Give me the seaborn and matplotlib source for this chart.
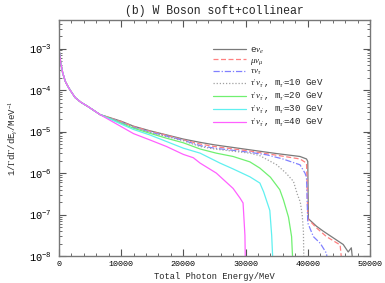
import numpy as np
import pandas as pd
import matplotlib
matplotlib.use("Agg")
import matplotlib.pyplot as plt
import seaborn as sns
from matplotlib.ticker import MultipleLocator, LogLocator

# shared low-energy part (all channels overlap there), energy in MeV, log10 of 1/Gamma dGamma/dE
head_E = [100, 300, 600, 1000, 1400, 1800, 2600, 3500, 4700, 6600]
head_log = [-3.1, -3.35, -3.58, -3.78, -3.9, -4.0, -4.18, -4.29, -4.4, -4.59]

enu_E = [10000, 12000, 14600, 17300, 20000, 22700, 25000, 30700, 35000, 38750, 39800, 40000,
         40100, 41400, 42500, 44100, 45700, 46500, 47000, 47500]
enu_log = [-4.75, -4.87, -4.98, -5.08, -5.18, -5.26, -5.32, -5.44, -5.53, -5.6, -5.66, -5.72,
           -7.1, -7.28, -7.4, -7.56, -7.72, -7.9, -7.8, -8.5]

munu_E = [10000, 12000, 14600, 17300, 20000, 22700, 25000, 30700, 35000, 38750, 39800, 39900,
          40000, 41400, 43000, 45200, 45700]
munu_log = [-4.76, -4.88, -4.99, -5.09, -5.2, -5.3, -5.36, -5.47, -5.57, -5.66, -5.76, -6.3,
            -7.1, -7.32, -7.53, -7.73, -8.5]

taunu_E = [10000, 12000, 14600, 17300, 20000, 22700, 25000, 30700, 33400, 36000, 38750, 39550,
           39800, 40000, 40900, 42000, 43000, 43500]
taunu_log = [-4.78, -4.9, -5.01, -5.11, -5.21, -5.34, -5.4, -5.5, -5.56, -5.66, -5.8, -6.0,
             -6.1, -7.2, -7.53, -7.69, -7.93, -8.5]

m10_E = [10000, 12000, 14600, 17300, 20000, 22700, 25000, 30700, 32300, 35000, 36500, 37700,
         38300, 38800, 39100, 39300, 39400]
m10_log = [-4.78, -4.9, -5.02, -5.12, -5.22, -5.36, -5.42, -5.52, -5.58, -5.8, -6.0, -6.2,
           -6.5, -6.7, -7.0, -7.4, -8.5]

m20_E = [10000, 12000, 14600, 17300, 20000, 22700, 25300, 28000, 30700, 32300, 34000, 35500,
         36100, 36900, 37400, 37700]
m20_log = [-4.8, -4.92, -5.04, -5.16, -5.27, -5.42, -5.52, -5.6, -5.73, -5.88, -6.1, -6.4,
           -6.65, -7.06, -7.53, -8.5]

m30_E = [10000, 12000, 14600, 17300, 20000, 22700, 25900, 28000, 30700, 32300, 32900, 33900,
         34200, 34500]
m30_log = [-4.82, -4.95, -5.08, -5.24, -5.4, -5.52, -5.76, -5.9, -6.09, -6.24, -6.45, -6.9,
           -7.5, -8.5]

m40_E = [10000, 12000, 14600, 17300, 20000, 21600, 22700, 25300, 28000, 29100, 29600, 29900,
         30000]
m40_log = [-4.88, -5.05, -5.2, -5.36, -5.55, -5.63, -5.76, -6.0, -6.37, -6.6, -6.72, -7.5,
           -8.5]

labels = [r"e$\nu_e$", r"$\mu\nu_\mu$", r"$\tau\nu_\tau$",
          r"$\tau'\nu_{\tau'}$, m$_{\tau'}$=10 GeV",
          r"$\tau'\nu_{\tau'}$, m$_{\tau'}$=20 GeV",
          r"$\tau'\nu_{\tau'}$, m$_{\tau'}$=30 GeV",
          r"$\tau'\nu_{\tau'}$, m$_{\tau'}$=40 GeV"]
series = [(enu_E, enu_log), (munu_E, munu_log), (taunu_E, taunu_log), (m10_E, m10_log),
          (m20_E, m20_log), (m30_E, m30_log), (m40_E, m40_log)]
colors = ["#7a7a7a", "#ff8080", "#8080ff", "#a0a0a0", "#70f070", "#60f0f0", "#ff60ff"]
styles = ["-", (0, (4, 2)), (0, (5, 1.5, 1, 1.5)), (0, (1, 1.5)), "-", "-", "-"]

sns.set_style("ticks")
plt.rcParams["font.family"] = ["Liberation Mono", "DejaVu Sans"]
plt.rcParams["mathtext.fontset"] = "custom"
plt.rcParams["mathtext.rm"] = "Liberation Serif"
plt.rcParams["mathtext.it"] = "Liberation Serif:italic"
plt.rcParams["mathtext.bf"] = "Liberation Serif:bold"

fig = plt.figure(figsize=(3.85, 2.83), dpi=100)
ax = fig.add_axes([0.153, 0.095, 0.808, 0.836])

for lab, (E, lg), c, ls in zip(labels, series, colors, styles):
    df = pd.DataFrame({"E": head_E + E, "y": 10.0 ** np.array(head_log + lg)})
    sns.lineplot(data=df, x="E", y="y", ax=ax, color=c, linestyle=ls, linewidth=0.9,
                 estimator=None, sort=False, label=lab)

ax.set_yscale("log")
ax.set_xlim(0, 50000)
ax.set_ylim(1e-8, 5e-3)
ax.xaxis.set_major_locator(MultipleLocator(10000))
ax.xaxis.set_minor_locator(MultipleLocator(2000))
ax.yaxis.set_major_locator(LogLocator(base=10, numticks=10))
ax.yaxis.set_minor_locator(LogLocator(base=10, subs=np.arange(2, 10), numticks=10))
ax.tick_params(which="both", direction="in", top=True, right=True, colors="#555555",
               labelcolor="black")
ax.tick_params(axis="x", labelsize=6)
ax.tick_params(axis="y", labelsize=7.5, pad=5)
ax.tick_params(which="major", length=5, width=0.8)
ax.tick_params(which="minor", length=2.5, width=0.6)
for s in ax.spines.values():
    s.set_color("#777777")
    s.set_linewidth(1.0)

ax.set_title("(b) W Boson soft+collinear", fontsize=8.3, pad=4)
ax.set_xlabel("Total Photon Energy/MeV", fontsize=6.3, labelpad=3)
ax.set_ylabel(r"1/$\Gamma$d$\Gamma$/dE$_\gamma$/MeV$^{-1}$", fontsize=6.5, labelpad=7)

leg = ax.legend(loc="upper left", bbox_to_anchor=(0.48, 0.91), frameon=False, fontsize=6.6,
                borderpad=0, handlelength=3.6, handletextpad=0.45, labelspacing=0.0)
fig.savefig("out.png", dpi=100)
